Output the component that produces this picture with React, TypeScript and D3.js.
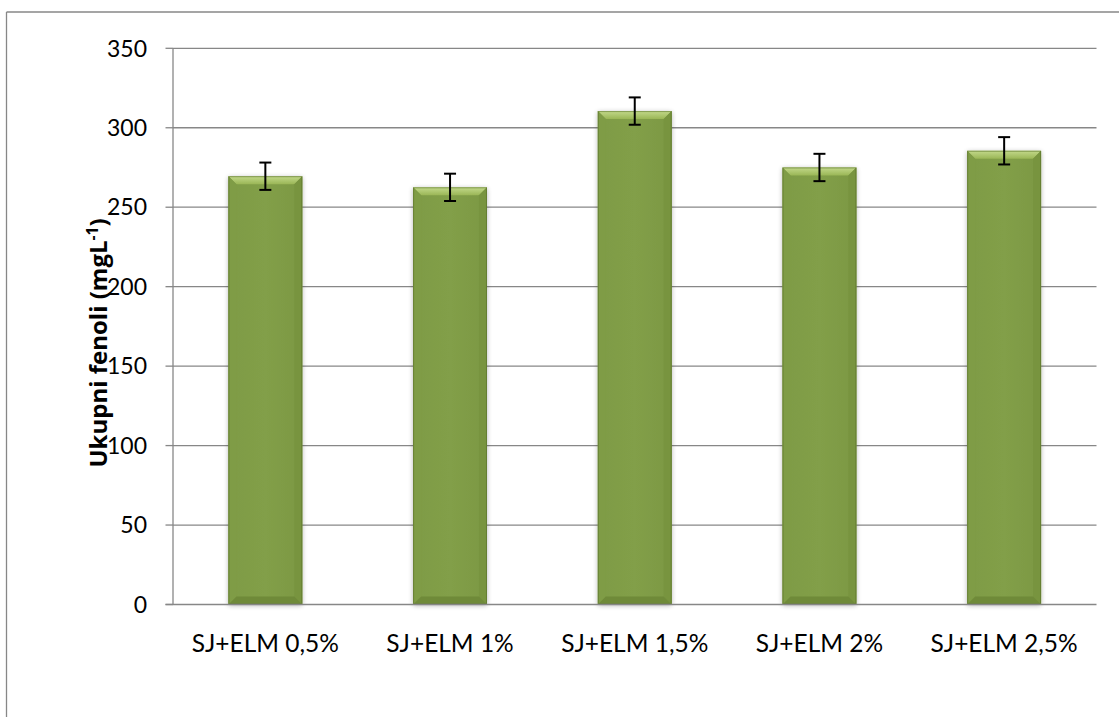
import React from "react";
import * as d3 from "d3";

const categories = ["SJ+ELM 0,5%", "SJ+ELM 1%", "SJ+ELM 1,5%", "SJ+ELM 2%", "SJ+ELM 2,5%"];
const values = [269.5, 262.5, 310.5, 275, 285.5];
const errors = [8.6, 8.6, 8.6, 8.6, 8.6];
const yTicks = [0, 50, 100, 150, 200, 250, 300, 350];
const yTitle = "Ukupni fenoli (mgL";
const yTitleSup = "-1";

const W = 1119;
const H = 717;
const FONT = "Lato, 'Open Sans', sans-serif";
const TFONT = "'Open Sans', Lato, sans-serif";

export default function App() {
  const plotL = 173, plotR = 1096.5, plotT = 48.3, plotB = 604.5;
  const x = d3.scaleBand<string>().domain(categories).range([plotL, plotR]).paddingInner(0.6).paddingOuter(0.3);
  const y = d3.scaleLinear().domain([0, 350]).range([plotB, plotT]);
  const grid = "#878787";
  const bw = x.bandwidth();
  const bev = 8;

  return (
    <svg width={W} height={H} style={{ position: "absolute", left: 0, top: 0, background: "#fff" }}>
      <defs>
        <linearGradient id="topBev" x1="0" y1="0" x2="0" y2="1">
          <stop offset="0" stopColor="#c3d98b" />
          <stop offset="1" stopColor="#9ab656" />
        </linearGradient>
        <linearGradient id="body" x1="0" y1="0" x2="1" y2="0">
          <stop offset="0" stopColor="#7e9b45" />
          <stop offset="0.5" stopColor="#829f48" />
          <stop offset="1" stopColor="#7c9843" />
        </linearGradient>
        <filter id="shadow" x="-20%" y="-10%" width="140%" height="120%">
          <feGaussianBlur in="SourceAlpha" stdDeviation="2.5" />
          <feOffset dx="0" dy="1" />
          <feComponentTransfer>
            <feFuncA type="linear" slope="0.3" />
          </feComponentTransfer>
          <feMerge>
            <feMergeNode />
            <feMergeNode in="SourceGraphic" />
          </feMerge>
        </filter>
      </defs>
      {/* outer frame */}
      <line x1={6.5} y1={12} x2={W} y2={12} stroke={grid} strokeWidth={1.3} />
      <line x1={6.5} y1={12} x2={6.5} y2={H} stroke={grid} strokeWidth={1.3} />

      {/* gridlines & y ticks */}
      {yTicks.map((t) => (
        <g key={t}>
          {t > 0 && <line x1={plotL} x2={plotR} y1={y(t)} y2={y(t)} stroke={grid} strokeWidth={1.3} />}
          <line x1={165.5} x2={plotL} y1={y(t)} y2={y(t)} stroke={grid} strokeWidth={1.3} />
          <text x={147} y={y(t)} dy="0.36em" textAnchor="end" fontFamily={FONT} fontSize={23} fill="#000">
            {t}
          </text>
        </g>
      ))}
      <line x1={plotL} x2={plotL} y1={plotT} y2={plotB} stroke={grid} strokeWidth={1.3} />

      {/* bars */}
      {categories.map((c, i) => {
        const x0 = x(c)!;
        const x1 = x0 + bw;
        const y0 = y(values[i]);
        const y1 = y(0);
        return (
          <g key={c}>
            <g filter="url(#shadow)">
              <rect x={x0} y={y0} width={bw} height={y1 - y0} fill="url(#body)" />
            </g>
            <polygon points={`${x0},${y0} ${x1},${y0} ${x1 - bev},${y0 + bev} ${x0 + bev},${y0 + bev}`} fill="url(#topBev)" />
            <polygon points={`${x0},${y0} ${x0 + bev},${y0 + bev} ${x0 + bev},${y1 - bev} ${x0},${y1}`} fill="#7f9c46" />
            <polygon points={`${x1},${y0} ${x1 - bev},${y0 + bev} ${x1 - bev},${y1 - bev} ${x1},${y1}`} fill="#78943f" />
            <polygon points={`${x0},${y1} ${x0 + bev},${y1 - bev} ${x1 - bev},${y1 - bev} ${x1},${y1}`} fill="#6f8a39" />
            <rect x={x0 + 0.5} y={y0 + 0.5} width={bw - 1} height={y1 - y0 - 1} fill="none" stroke="#556d27" strokeWidth={1} opacity={0.55} />
          </g>
        );
      })}

      {/* x axis */}
      <line x1={165.5} x2={plotR} y1={plotB} y2={plotB} stroke={grid} strokeWidth={1.3} />

      {/* error bars */}
      {categories.map((c, i) => {
        const cx = x(c)! + bw / 2;
        const yt = y(values[i] + errors[i]);
        const yb = y(values[i] - errors[i]);
        return (
          <g key={c} stroke="#000" strokeWidth={2}>
            <line x1={cx} x2={cx} y1={yt} y2={yb} />
            <line x1={cx - 6} x2={cx + 6} y1={yt} y2={yt} />
            <line x1={cx - 6} x2={cx + 6} y1={yb} y2={yb} />
          </g>
        );
      })}

      {/* x labels */}
      {categories.map((c) => (
        <text key={c} x={x(c)! + bw / 2} y={652} textAnchor="middle" fontFamily={FONT} fontSize={24.5} fill="#000">
          {c}
        </text>
      ))}

      {/* y title */}
      <text
        transform={`translate(107, 343) rotate(-90)`}
        textAnchor="middle"
        fontFamily={TFONT}
        fontSize={24}
        fontWeight="bold"
        fill="#000"
      >
        {yTitle}
        <tspan fontSize={15.5} dy={-9.5}>{yTitleSup}</tspan>
        <tspan dy={9.5}>)</tspan>
      </text>
    </svg>
  );
}
